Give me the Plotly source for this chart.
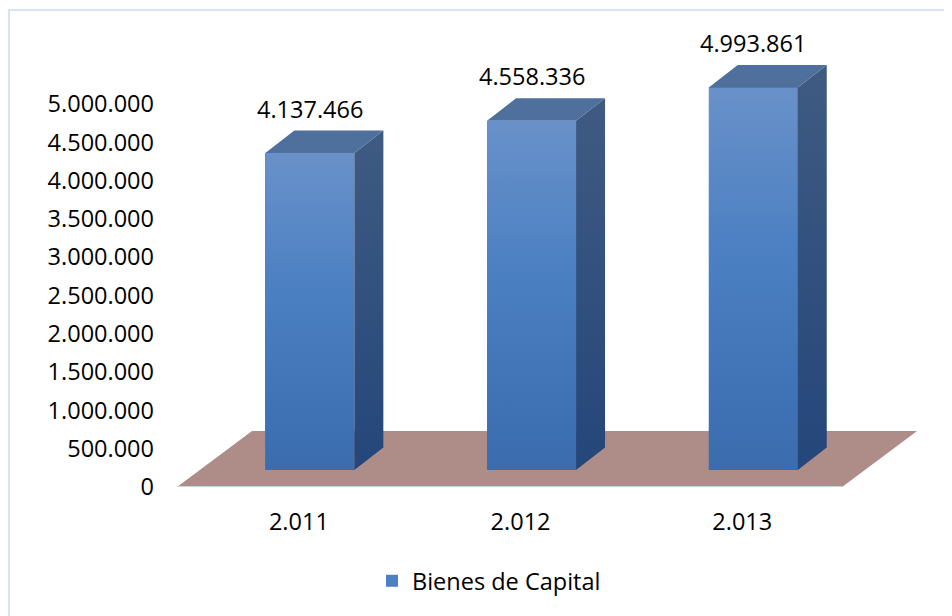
import plotly.graph_objects as go

# data
years = ['2.011', '2.012', '2.013']
values = [4137466, 4558336, 4993861]
series_name = 'Bienes de Capital'
y_ticks = [0, 500000, 1000000, 1500000, 2000000, 2500000,
           3000000, 3500000, 4000000, 4500000, 5000000]

# page geometry (px); the page body adds an 8px margin, so positions
# measured on the screen are shifted back by OFF
W, H = 952, 616
OFF = 8
PLOT_L, PLOT_R, PLOT_T, PLOT_B = 177 - OFF, 918 - OFF, 40 - OFF, 487 - OFF
X_PX = 221.7          # px per category
Y_PX = 76.6 / 1e6     # px per value unit


def ux(px):
    return px / X_PX


def uy(px):
    return px / Y_PX


def fmt(v):
    return f"{v:,}".replace(",", ".")


def paper_x(px):
    # px measured on screen
    return (px - OFF - PLOT_L) / (PLOT_R - PLOT_L)


def paper_y(py):
    return (PLOT_B - (py - OFF)) / (PLOT_B - PLOT_T)


# pseudo 3D offsets
FLOOR_DX, FLOOR_DY = ux(75), uy(56)
FRONT_DX, FRONT_DY = ux(22), uy(17)
BAR_DX, BAR_DY = ux(29), uy(22.5)
BAR_W = ux(89)
LABEL_GAP = uy(22)

FONT = dict(family='Open Sans', size=23.5, color='#000000')

fig = go.Figure()

positions = [i - 1 for i in range(len(years))]
centers = [p + FRONT_DX for p in positions]

# front faces as real bars (carries the legend)
fig.add_trace(go.Bar(x=centers, y=values, base=FRONT_DY, width=BAR_W,
                     marker=dict(color='#4d7fc1', line=dict(width=0)),
                     name=series_name, showlegend=True, hoverinfo='skip'))


def face(xs, ys, colorscale=None, color=None):
    kw = dict(x=xs + [xs[0]], y=ys + [ys[0]], mode='lines', fill='toself',
              line=dict(width=0, color=color or 'rgba(0,0,0,0)'),
              showlegend=False, hoverinfo='skip')
    if colorscale:
        kw['fillgradient'] = dict(type='vertical', colorscale=colorscale)
    else:
        kw['fillcolor'] = color
    return go.Scatter(**kw)


for cx, v in zip(centers, values):
    x0, x1 = cx - BAR_W / 2, cx + BAR_W / 2
    yb, yt = FRONT_DY, v + FRONT_DY
    # front gradient
    fig.add_trace(face([x0, x1, x1, x0], [yb, yb, yt, yt],
                       colorscale=[[0, '#3a6cae'], [0.55, '#4a7fc2'], [1, '#6991c9']]))
    # side
    fig.add_trace(face([x1, x1 + BAR_DX, x1 + BAR_DX, x1],
                       [yb, yb + BAR_DY, yt + BAR_DY, yt],
                       colorscale=[[0, '#24467a'], [1, '#3f5b82']]))
    # top
    fig.add_trace(face([x0, x1, x1 + BAR_DX, x0 + BAR_DX],
                       [yt, yt, yt + BAR_DY, yt + BAR_DY], color='#4f6f9c'))
    fig.add_annotation(x=cx, y=yt + BAR_DY + LABEL_GAP, text=fmt(v),
                       showarrow=False, font=FONT, xanchor='center', yanchor='middle')

# floor front edge (axis line)
fig.add_trace(go.Scatter(x=[-1.5, 1.5], y=[0, 0], mode='lines',
                         line=dict(color='#c6d6eb', width=2),
                         showlegend=False, hoverinfo='skip'))

# floor
fig.add_shape(type='path', xref='x', yref='y', layer='below',
              path=(f"M {-1.5},0 L {1.5},0 L {1.5 + FLOOR_DX},{FLOOR_DY} "
                    f"L {-1.5 + FLOOR_DX},{FLOOR_DY} Z"),
              fillcolor='#ae8d88', line=dict(width=0))

# outer chart border
fig.add_shape(type='rect', xref='paper', yref='paper',
              x0=paper_x(9), x1=paper_x(1000), y0=paper_y(700), y1=paper_y(10),
              line=dict(color='#d9e3f1', width=2), fillcolor='rgba(0,0,0,0)')

fig.update_layout(
    width=W, height=H,
    margin=dict(l=PLOT_L, r=W - PLOT_R, t=PLOT_T, b=H - PLOT_B, pad=0),
    paper_bgcolor='white', plot_bgcolor='white',
    separators=',.',
    font=FONT,
    showlegend=True,
    legend=dict(orientation='h', x=paper_x(372), xanchor='left',
                y=paper_y(581), yanchor='middle', font=FONT,
                bgcolor='rgba(0,0,0,0)'),
    xaxis=dict(range=[-1.5, -1.5 + (PLOT_R - PLOT_L) / X_PX],
               tickvals=[p + FRONT_DX / 2 for p in positions], ticktext=years,
               showgrid=False, zeroline=False, showline=False, ticks='',
               ticklabelstandoff=18, fixedrange=True),
    yaxis=dict(range=[0, uy(PLOT_B - PLOT_T)], tickvals=y_ticks,
               tickformat=',d', showgrid=False, zeroline=False, showline=False,
               ticks='', ticklabelstandoff=22, fixedrange=True),
    bargap=0,
)

fig.write_html("out.html")
